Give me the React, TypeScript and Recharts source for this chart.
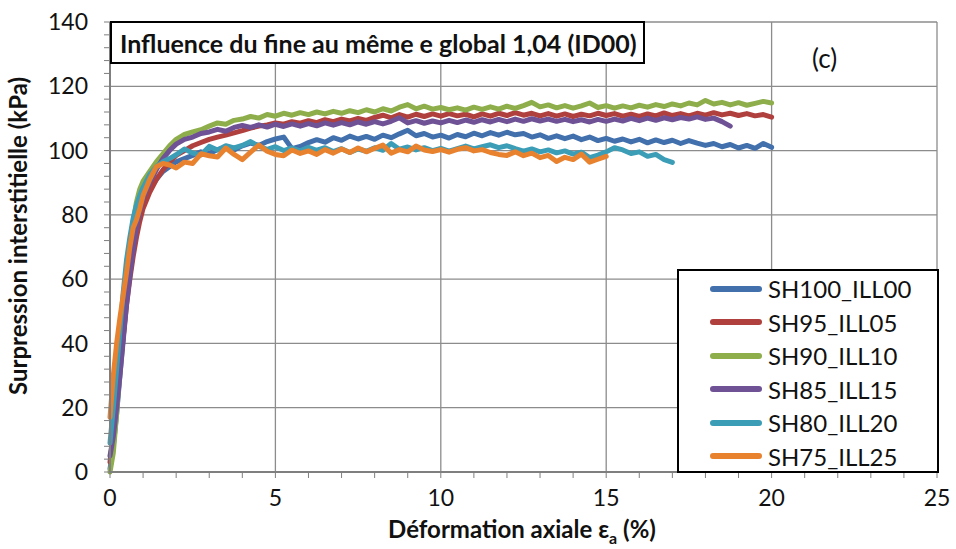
import React from "react";
import { CartesianGrid, Label, Line, LineChart, XAxis, YAxis } from "recharts";

// strain grid (%) shared by every test
const strain = [
  0, 0.1, 0.2, 0.3, 0.4, 0.5, 0.6, 0.7, 0.8, 0.9, 1.0,
  1.2, 1.4, 1.6, 1.8, 2.0,
  2.25, 2.5, 2.75, 3.0, 3.25, 3.5, 3.75, 4.0, 4.25, 4.5, 4.75, 5.0,
  5.25, 5.5, 5.75, 6.0, 6.25, 6.5, 6.75, 7.0, 7.25, 7.5, 7.75, 8.0,
  8.25, 8.5, 8.75, 9.0, 9.25, 9.5, 9.75, 10.0, 10.25, 10.5, 10.75, 11.0,
  11.25, 11.5, 11.75, 12.0, 12.25, 12.5, 12.75, 13.0, 13.25, 13.5, 13.75, 14.0,
  14.25, 14.5, 14.75, 15.0, 15.25, 15.5, 15.75, 16.0, 16.25, 16.5, 16.75, 17.0,
  17.25, 17.5, 17.75, 18.0, 18.25, 18.5, 18.75, 19.0, 19.25, 19.5, 19.75, 20.0,
];

const sh100 = [
  1, 8, 18, 30, 42, 54, 64, 71, 77, 81, 84,
  88, 91, 93.5, 95, 96.5,
  97.5, 98.5, 99.6, 99, 100.3, 101, 100.2, 101.5, 102.3, 101.6, 102.8, 103.6,
  104.2, 100.6, 101.3, 102.5, 103.4, 102.6, 104, 103.2, 104.5, 103.6, 104.4, 103.5,
  104.8, 104, 105.2, 106.3, 104.6, 105.3, 104.2, 104.8, 103.9, 105, 104.3, 105.4,
  104.6, 105.6, 104.8, 105.7, 104.9, 105.3, 104.2, 104.9, 103.8, 104.6, 103.7, 104.5,
  103.4, 104.2, 103.1, 103.8, 102.9, 103.6, 102.7, 103.5, 102.4, 103.3, 102.5, 103.2,
  102.2, 103.1, 102.3, 101.6, 102.2, 101.2, 101.9, 100.8, 101.6, 100.7, 102.2, 101,
];

const sh95 = [
  3, 12, 22, 33, 42, 52, 60, 67, 73, 78, 82,
  87, 91, 94, 96.5, 98.5,
  100, 101.5, 102.5, 103.5, 104.2, 104.8, 105.5, 106.2, 107, 107.6, 108, 108.6,
  108.2, 109, 108.5, 109.3, 108.7, 109.6, 109, 109.8, 109.2, 110, 109.4, 110.3,
  111, 110.2, 111.2, 110.4, 111.3, 110.6, 111.4, 110.7, 111.5, 110.8, 111.3, 110.5,
  111.4, 110.7, 111.6, 110.9, 111.8, 111, 111.6, 110.8, 111.5, 110.7, 111.4, 110.6,
  111.3, 110.8, 111.6, 110.9, 111.5, 110.7, 111.3, 110.6, 111.4, 110.8, 111.7, 110.9,
  111.5, 110.8, 111.6, 111, 111.8, 111.1, 111.6, 110.9, 111.5, 110.8, 111.2, 110.4,
];

const sh90 = [
  0, 6, 18, 32, 46, 58, 69, 78, 84, 88, 90.5,
  93.5, 96.5, 99, 101.5, 103.5,
  105, 105.8, 106.5, 107.6, 108.6, 108.2, 109.4, 109.8, 110.6, 110.1, 111.2, 110.7,
  111.6, 111, 111.8, 111.2, 112, 111.4, 112.2, 111.6, 112.4, 111.8, 112.7, 112,
  113, 112.3, 113.5, 114.3, 113, 113.8, 112.9, 113.4, 112.7, 113.3, 112.6, 113.5,
  112.8, 113.6, 112.9, 113.8, 113.1, 114, 115, 113.6, 114.2, 113.3, 114, 113.2,
  113.9, 114.8, 113.4, 114, 113.2, 113.9, 113.3, 114.1, 113.5, 114.3, 113.7, 114.5,
  113.9, 114.8, 114.2, 115.6, 114.5, 115, 114.2, 114.9, 114.1, 114.7, 115.3, 114.8,
];

const sh85 = [
  5, 11, 20, 30, 41, 52, 61, 69, 76, 81, 85,
  90, 94, 97.5, 100, 102,
  103.5, 104.2, 105.3, 105.8, 106.6, 106, 107.2, 107.8, 107.2, 108, 107.3, 108.2,
  107.5, 108.3, 107.6, 108.4, 107.7, 108.6, 107.9, 108.7, 108, 108.9, 108.2, 109,
  108.3, 109.1, 110.2, 108.6, 109.3, 108.5, 109.2, 108.6, 109.4, 108.7, 109.5, 108.8,
  109.6, 108.9, 109.7, 109, 109.8, 109.1, 109.9, 109.2, 109.8, 109.1, 109.7, 109,
  109.6, 108.9, 109.7, 109.1, 109.8, 109.2, 110, 109.3, 110.1, 109.4, 110.2, 109.6,
  110.3, 109.8, 110.5, 109.7, 110.1, 109, 107.6,
];

const sh80 = [
  9, 20, 32, 44, 56, 66, 73, 79, 83, 86, 88.5,
  92.5, 95, 96.5, 97.5, 98.7,
  100.5, 99.2, 98.6, 101.3, 100.2, 101.5, 100.8, 101.6, 102.8, 101.3, 100.4, 101.2,
  100, 100.8, 99.9, 101, 100.1, 100.9, 99.7, 100.6, 99.4, 100.5, 99.8, 100.9,
  100.1, 102.2, 100.4, 101.1, 100.2, 100.9, 100, 100.7, 99.8, 100.6, 101.4, 100.5,
  101.2, 101.8, 100.9, 101.5, 100.6, 99.8, 100.5, 99.6, 100.2, 99.3, 99.9, 98.9,
  99.5, 97.8, 98.6, 99.6, 100.9, 100.2, 99.1, 99.6, 98.2, 98.8, 97.2, 96.3,
];

const sh75 = [
  17, 30, 40, 48, 55, 62, 70, 76, 78.5, 82, 86,
  91, 95, 96, 95.5, 94.6,
  96.4, 96, 99, 98.4, 98, 100.8, 98.8, 97.2, 99.5, 101.7, 99.8, 98.8,
  98.4, 100.2, 99.1, 99.9, 98.8, 100.3, 99.2, 100.5, 99.4, 100.8, 99.6, 100.7,
  101.7, 99.2, 100.3, 99.6, 101.4, 100.2, 99.7, 100.3, 99.5, 100.4, 100.9, 99.9,
  100.3, 99.4, 98.8, 98.5, 99.6, 98.4, 99.2, 97.8, 98.5, 96.6, 97.9, 97.2,
  98.9, 96.4, 97.3, 98.2,
];

const seriesNames = ["SH100_ILL00", "SH95_ILL05", "SH90_ILL10", "SH85_ILL15", "SH80_ILL20", "SH75_ILL25"];
const seriesValues = [sh100, sh95, sh90, sh85, sh80, sh75];
const seriesColors = ["#4170AD", "#B0403D", "#8DAE4B", "#6E5295", "#3C9DB7", "#E8822F"];

const xTicks = [0, 1, 2, 3, 4, 5, 6, 7, 8, 9, 10, 11, 12, 13, 14, 15, 16, 17, 18, 19, 20, 21, 22, 23, 24, 25];
const xMajor = [0, 5, 10, 15, 20, 25];
const yTicks = [0, 4, 8, 12, 16, 20, 24, 28, 32, 36, 40, 44, 48, 52, 56, 60, 64, 68, 72, 76, 80, 84, 88, 92, 96, 100, 104, 108, 112, 116, 120, 124, 128, 132, 136, 140];
const yMajor = [0, 20, 40, 60, 80, 100, 120, 140];

const FONT = "Lato, 'Open Sans', sans-serif";

const series = seriesNames.map((name, k) => ({
  name,
  color: seriesColors[k],
  data: seriesValues[k].map((y, i) => ({ x: strain[i], y })),
}));

function LegendBox() {
  return (
    <div
      style={{
        position: "absolute",
        left: 677,
        top: 269,
        width: 258,
        height: 199,
        border: "2px solid #000",
        background: "#fff",
        fontFamily: FONT,
        fontSize: 24,
        color: "#111",
        paddingTop: 1,
        boxSizing: "content-box",
      }}
    >
      {series.map((s) => (
        <div key={s.name} style={{ display: "flex", alignItems: "center", height: 33.5 }}>
          <div style={{ width: 52, height: 6, borderRadius: 3, background: s.color, marginLeft: 31, marginRight: 6 }} />
          <span>{s.name}</span>
        </div>
      ))}
    </div>
  );
}

export default function App() {
  return (
    <div style={{ position: "fixed", left: 0, top: 0, width: 956, height: 549, background: "#fff" }}>
      <LineChart width={956} height={549} margin={{ top: 22, right: 19, bottom: 0, left: 0 }}>
        <CartesianGrid
          stroke="#8c8c8c"
          strokeWidth={1.3}
          horizontalValues={yMajor}
          verticalValues={xMajor}
        />
        <XAxis
          dataKey="x"
          type="number"
          domain={[0, 25]}
          ticks={xTicks}
          interval={0}
          allowDuplicatedCategory={false}
          height={77}
          tickSize={6}
          tickLine={{ stroke: "#7f7f7f" }}
          axisLine={{ stroke: "#7f7f7f", strokeWidth: 2 }}
          tick={{ fill: "#111", fontSize: 23, fontFamily: FONT }}
          tickFormatter={(v: number) => (xMajor.includes(v) ? String(v) : "")}
          tickMargin={12}
        >
          <Label
            content={() => (
              <text x={522} y={538} textAnchor="middle" fontFamily={FONT} fontWeight={700} fontSize={24} fill="#111">
                Déformation axiale ε
                <tspan fontSize={16} dy={6}>a</tspan>
                <tspan dy={-6}> (%)</tspan>
              </text>
            )}
          />
        </XAxis>
        <YAxis
          type="number"
          domain={[0, 140]}
          ticks={yTicks}
          interval={0}
          width={110}
          tickSize={6}
          tickLine={{ stroke: "#7f7f7f" }}
          axisLine={{ stroke: "#7f7f7f", strokeWidth: 2 }}
          tick={{ fill: "#111", fontSize: 23, fontFamily: FONT }}
          tickFormatter={(v: number) => (yMajor.includes(v) ? String(v) : "")}
          tickMargin={16}
        >
          <Label
            content={() => (
              <text
                x={27}
                y={236}
                transform="rotate(-90 27 236)"
                textAnchor="middle"
                fontFamily={FONT}
                fontWeight={700}
                fontSize={24}
                fill="#111"
              >
                Surpression interstitielle (kPa)
              </text>
            )}
          />
        </YAxis>
        {series.map((s) => (
          <Line
            key={s.name}
            name={s.name}
            data={s.data}
            dataKey="y"
            type="linear"
            stroke={s.color}
            strokeWidth={5}
            strokeLinecap="round"
            strokeLinejoin="round"
            dot={false}
            activeDot={false}
            isAnimationActive={false}
          />
        ))}
      </LineChart>
      <LegendBox />
      <div
        style={{
          position: "absolute",
          left: 110,
          top: 21,
          height: 39,
          border: "2px solid #000",
          background: "#fff",
          fontFamily: FONT,
          fontWeight: 700,
          fontSize: 25,
          color: "#111",
          display: "flex",
          alignItems: "center",
          paddingLeft: 8,
          boxSizing: "content-box",
          width: 523,
          whiteSpace: "nowrap",
        }}
      >
        Influence du fine au même e global 1,04 (ID00)
      </div>
      <div
        style={{ position: "absolute", left: 812, top: 42, fontFamily: FONT, fontSize: 26, color: "#111" }}
      >
        (c)
      </div>
    </div>
  );
}
